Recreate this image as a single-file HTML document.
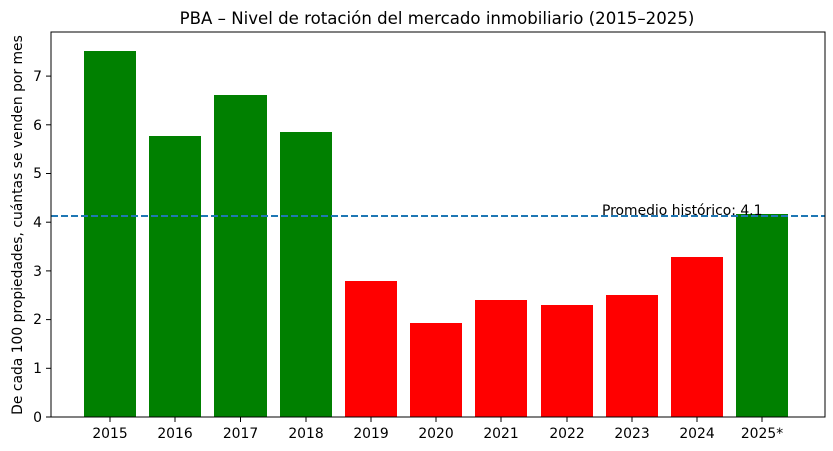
<!DOCTYPE html>
<html><head><meta charset="utf-8"><style>body{margin:0;background:#fff}svg{display:block;font-family:"DejaVu Sans",sans-serif}</style></head>
<body>
<svg width="833" height="451" viewBox="0 0 833 451">
<rect width="833" height="451" fill="#fff"/>
<text x="437" y="24" font-size="16.6" text-anchor="middle">PBA – Nivel de rotación del mercado inmobiliario (2015–2025)</text>
<g>
<rect x="84" y="51" width="52" height="366" fill="#008000"/>
<rect x="149" y="136" width="52" height="281" fill="#008000"/>
<rect x="214" y="95" width="53" height="322" fill="#008000"/>
<rect x="280" y="132" width="52" height="285" fill="#008000"/>
<rect x="345" y="281" width="52" height="136" fill="#ff0000"/>
<rect x="410" y="323" width="52" height="94" fill="#ff0000"/>
<rect x="475" y="300" width="52" height="117" fill="#ff0000"/>
<rect x="541" y="305" width="52" height="112" fill="#ff0000"/>
<rect x="606" y="295" width="52" height="122" fill="#ff0000"/>
<rect x="671" y="257" width="52" height="160" fill="#ff0000"/>
<rect x="736" y="214" width="52" height="203" fill="#008000"/>
</g>
<line x1="51" y1="216" x2="825" y2="216" stroke="#1f77b4" stroke-width="2" stroke-dasharray="7,3"/>
<text x="602" y="215" font-size="13.9">Promedio histórico: 4.1</text>
<rect x="51" y="32" width="774" height="385" fill="none" stroke="#000" stroke-width="1"/>
<g font-size="13.9" text-anchor="end">
<line x1="46" y1="417" x2="51" y2="417" stroke="#000"/><text x="42" y="422">0</text>
<line x1="46" y1="368.3" x2="51" y2="368.3" stroke="#000"/><text x="42" y="373">1</text>
<line x1="46" y1="319.6" x2="51" y2="319.6" stroke="#000"/><text x="42" y="324">2</text>
<line x1="46" y1="270.9" x2="51" y2="270.9" stroke="#000"/><text x="42" y="276">3</text>
<line x1="46" y1="222.2" x2="51" y2="222.2" stroke="#000"/><text x="42" y="227">4</text>
<line x1="46" y1="173.5" x2="51" y2="173.5" stroke="#000"/><text x="42" y="178">5</text>
<line x1="46" y1="124.8" x2="51" y2="124.8" stroke="#000"/><text x="42" y="130">6</text>
<line x1="46" y1="76.1" x2="51" y2="76.1" stroke="#000"/><text x="42" y="81">7</text>
</g>
<g font-size="13.9" text-anchor="middle">
<g stroke="#000">
<line x1="110" y1="417" x2="110" y2="422"/><line x1="175" y1="417" x2="175" y2="422"/><line x1="240.5" y1="417" x2="240.5" y2="422"/><line x1="306" y1="417" x2="306" y2="422"/><line x1="371" y1="417" x2="371" y2="422"/><line x1="436" y1="417" x2="436" y2="422"/><line x1="501" y1="417" x2="501" y2="422"/><line x1="567" y1="417" x2="567" y2="422"/><line x1="632" y1="417" x2="632" y2="422"/><line x1="697" y1="417" x2="697" y2="422"/><line x1="762" y1="417" x2="762" y2="422"/>
</g>
<text x="110" y="438">2015</text><text x="175" y="438">2016</text><text x="240.5" y="438">2017</text><text x="306" y="438">2018</text><text x="371" y="438">2019</text><text x="436" y="438">2020</text><text x="501" y="438">2021</text><text x="567" y="438">2022</text><text x="632" y="438">2023</text><text x="697" y="438">2024</text><text x="762" y="438">2025*</text>
</g>
<text transform="translate(22,225) rotate(-90)" font-size="13.9" text-anchor="middle">De cada 100 propiedades, cuántas se venden por mes</text>
</svg>
</body></html>
